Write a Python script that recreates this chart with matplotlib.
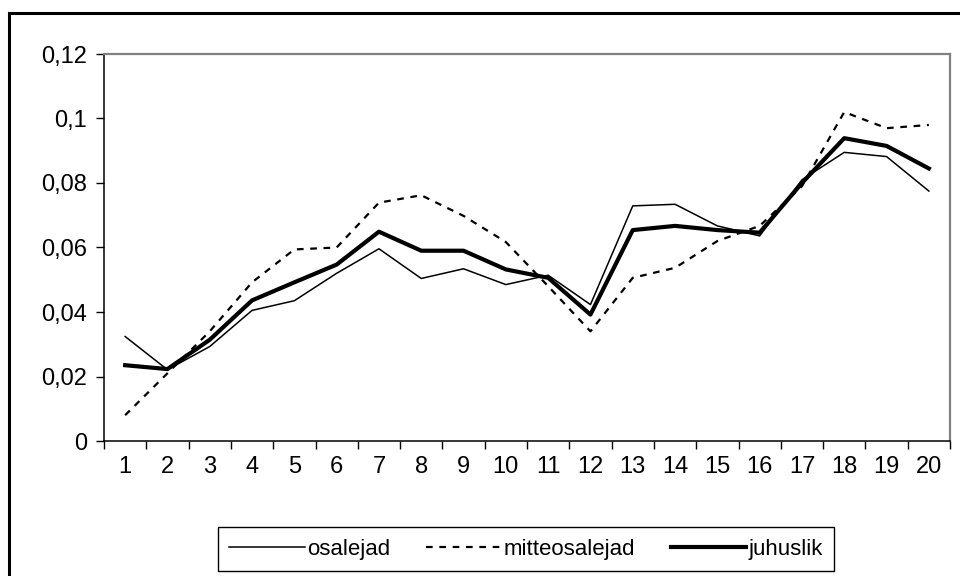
import matplotlib
matplotlib.use('Agg')

import matplotlib.pyplot as plt
from matplotlib.patches import Rectangle
from matplotlib.ticker import FuncFormatter, FixedLocator, NullFormatter

plt.rcParams['font.family'] = ['Liberation Sans', 'DejaVu Sans']

# data
kohad = list(range(1, 21))
osalejad = [0.0324, 0.0221, 0.0293, 0.0405, 0.0435, 0.052, 0.0596, 0.0504, 0.0534, 0.0485,
            0.0514, 0.0423, 0.0729, 0.0734, 0.0667, 0.0636, 0.081, 0.0895, 0.0882, 0.0775]
mitteosalejad = [0.008, 0.021, 0.034, 0.0492, 0.0594, 0.060, 0.0739, 0.0762, 0.0698, 0.0617,
                 0.048, 0.034, 0.0506, 0.0537, 0.062, 0.0667, 0.079, 0.102, 0.097, 0.098]
juhuslik = [0.0235, 0.0223, 0.0314, 0.0436, 0.0492, 0.0547, 0.0649, 0.059, 0.059, 0.0532,
            0.0506, 0.0392, 0.0654, 0.0667, 0.0654, 0.0646, 0.080, 0.0939, 0.0915, 0.0845]
y_ticks = [0, 0.02, 0.04, 0.06, 0.08, 0.1, 0.12]

W, H = 960, 576
fig = plt.figure(figsize=(W / 100, H / 100), dpi=100)
ax = fig.add_axes([104 / W, 1 - 441 / H, (950 - 104) / W, (441 - 54) / H])

ax.plot(kohad, osalejad, color='black', lw=1.1, label='osalejad')
ax.plot(kohad, mitteosalejad, color='black', lw=1.6, dashes=(3, 3), label='mitteosalejad')
ax.plot(kohad, juhuslik, color='black', lw=3, label='juhuslik')

ax.set_xlim(0.5, 20.5)
ax.set_ylim(0, 0.12)
ax.set_yticks(y_ticks)
ax.yaxis.set_major_formatter(FuncFormatter(lambda v, p: ('%g' % round(v, 4)).replace('.', ',')))

# x: tick marks between categories, labels at categories
ax.xaxis.set_major_locator(FixedLocator([k + 0.5 for k in range(0, 21)]))
ax.xaxis.set_major_formatter(NullFormatter())
ax.xaxis.set_minor_locator(FixedLocator(kohad))
ax.set_xticklabels([str(k) for k in kohad], minor=True)
ax.tick_params(axis='x', which='major', direction='out', length=6, width=1, color='black')
ax.tick_params(axis='x', which='minor', length=0, pad=11, labelsize=17)
ax.tick_params(axis='y', direction='out', length=6, width=1, labelsize=17, pad=6)

for s in ['left', 'bottom']:
    ax.spines[s].set_color('black')
    ax.spines[s].set_linewidth(1.1)
for s in ['top', 'right']:
    ax.spines[s].set_color('#808080')
    ax.spines[s].set_linewidth(1.6)

leg = fig.legend(loc='center', bbox_to_anchor=(526 / W, 1 - 549 / H), ncol=3,
                 fontsize=16, handlelength=3.4, handletextpad=0.1, columnspacing=1.6,
                 borderpad=0.5, fancybox=False, framealpha=1, edgecolor='black')
leg.get_frame().set_linewidth(1.0)

# outer chart frame
fig.add_artist(Rectangle((9 / W, -0.1), 1.2, (1 - 13 / H) + 0.1, transform=fig.transFigure,
                         fill=False, edgecolor='black', lw=2.2))

fig.savefig('out.png', dpi=100)
